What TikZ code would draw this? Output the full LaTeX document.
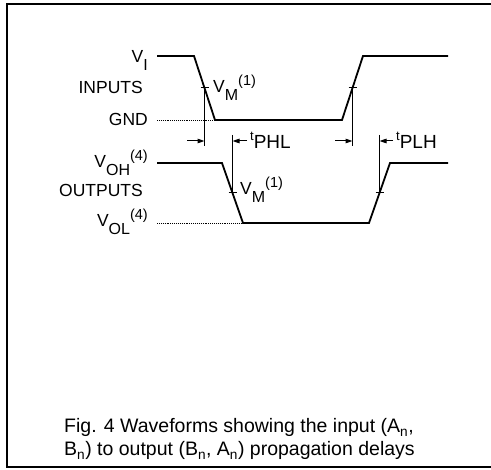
\documentclass[tikz,border=0pt]{standalone}
\usepackage{fontspec}
\setmainfont{Liberation Sans}
\usetikzlibrary{arrows.meta,calc}
\newcommand\lsub[1]{\raisebox{-0.42em}{\fontsize{16}{16}\selectfont #1}}
\newcommand\lsup[1]{\raisebox{0.42em}{\fontsize{14.5}{15}\selectfont #1}}
\newcommand\tlab[1]{\raisebox{8.5pt}{\fontsize{13}{13}\selectfont t}{\fontsize{19}{19}\selectfont #1}}
\begin{document}
\begin{tikzpicture}[x=1pt,y=-1pt,
  outline/.style={line width=2pt},
  wave/.style={line width=1.8pt},
  lvl/.style={densely dotted, line width=0.9pt},
  meas/.style={line width=1pt},
  midtick/.style={line width=1pt},
  darrow/.style={line width=1pt, -{Triangle[length=7pt,width=4.5pt]}},
  lbl/.style={font=\fontsize{17.5}{20}\selectfont, inner sep=0pt},
  captxt/.style={font=\fontsize{19.5}{22}\selectfont, inner sep=0pt, align=left}]
\useasboundingbox (0,0) rectangle (491,470);
\draw[outline] (7,4) rectangle (500,467);
% waveform points
\coordinate (i0) at (157,56);
\coordinate (i1) at (194,56);
\coordinate (i2) at (215,120);
\coordinate (i3) at (342,120);
\coordinate (i4) at (363,56);
\coordinate (i5) at (448,56);
\coordinate (g0) at (157,120);
\coordinate (o0) at (157,163);
\coordinate (o1) at (222,163);
\coordinate (o2) at (243,223);
\coordinate (o3) at (369,223);
\coordinate (o4) at (390,163);
\coordinate (o5) at (448,163);
\coordinate (l0) at (157,223);
% midpoints
\coordinate (m1) at ($(i1)!0.5!(i2)$);
\coordinate (m2) at ($(i3)!0.5!(i4)$);
\coordinate (m3) at ($(o1)!0.5!(o2)$);
\coordinate (m4) at ($(o3)!0.5!(o4)$);
% waveforms
\draw[wave] (i0) -- (i1) -- (i2) -- (i3) -- (i4) -- (i5);
\draw[wave] (o0) -- (o1) -- (o2) -- (o3) -- (o4) -- (o5);
\draw[lvl] (g0) -- (i2);
\draw[lvl] (l0) -- (o2);
% ticks
\foreach \m in {m1,m2,m3,m4}
  \draw[midtick] ([xshift=-4pt]\m) -- ([xshift=4pt]\m);
% measurement lines
\coordinate (v1b) at (m1 |- 0,146);
\coordinate (v2b) at (m2 |- 0,146);
\coordinate (v3t) at (m3 |- 0,135);
\coordinate (v4t) at (m4 |- 0,135);
\draw[meas] (m1) -- (v1b);
\draw[meas] (m2) -- (v2b);
\draw[meas] (v3t) -- (m3);
\draw[meas] (v4t) -- (m4);
\coordinate (a1s) at (187,141);
\coordinate (a1e) at (m1 |- 0,141);
\coordinate (a2s) at (335,141);
\coordinate (a2e) at (m2 |- 0,141);
\coordinate (a3s) at (247,141);
\coordinate (a3e) at (m3 |- 0,141);
\coordinate (a4s) at (393,141);
\coordinate (a4e) at (m4 |- 0,141);
\draw[darrow] (a1s) -- (a1e);
\draw[darrow] (a2s) -- (a2e);
\draw[darrow] (a3s) -- (a3e);
\draw[darrow] (a4s) -- (a4e);
% labels
\node[lbl, anchor=base east] (vi) at (148,63) {V\lsub{I}};
\node[lbl, anchor=base east] (inputs) at (143,94) {INPUTS};
\node[lbl, anchor=base east] (gnd) at (148,126) {GND};
\node[lbl, anchor=base east] (voh) at (148,168) {V\lsub{OH}\lsup{(4)}};
\node[lbl, anchor=base east] (outputs) at (143,197) {OUTPUTS};
\node[lbl, anchor=base east] (vol) at (148,227) {V\lsub{OL}\lsup{(4)}};
\node[lbl, anchor=base west] (vm1) at (213,93) {V\lsub{M}\lsup{(1)}};
\node[lbl, anchor=base west] (vm2) at (240,195) {V\lsub{M}\lsup{(1)}};
\node[lbl, anchor=base west] (tphl) at (250,149) {\tlab{PHL}};
\node[lbl, anchor=base west] (tplh) at (396,149) {\tlab{PLH}};
\node[captxt, anchor=base west] (cap1) at (64,433) {Fig. 4 Waveforms showing the input (A\textsubscript{n},};
\node[captxt, anchor=base west] (cap2) at (64,456) {B\textsubscript{n}) to output (B\textsubscript{n}, A\textsubscript{n}) propagation delays};
\end{tikzpicture}
\end{document}
